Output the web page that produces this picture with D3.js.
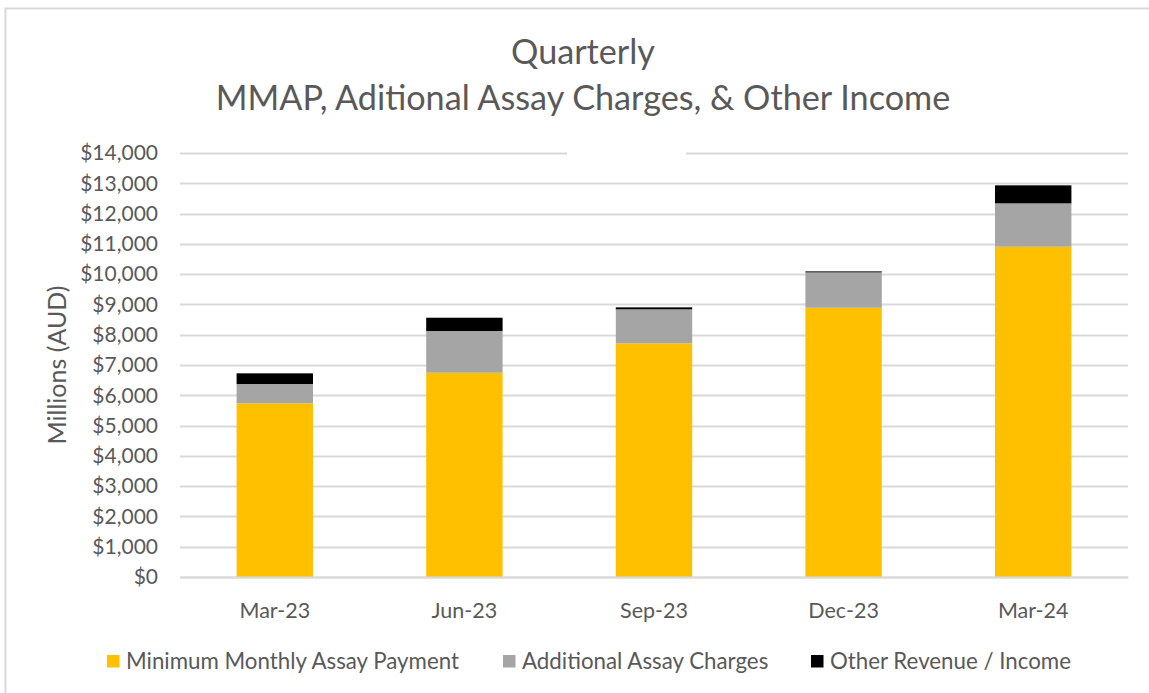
<!DOCTYPE html>
<html>
<head>
<meta charset="utf-8">
<script src="https://cdn.jsdelivr.net/npm/d3@7"></script>
<style>
  html, body { margin: 0; padding: 0; background: #ffffff; }
  svg { display: block; }
  text { font-family: "Lato", "Open Sans", sans-serif; fill: #595959; }
</style>
</head>
<body>
<svg id="chart" width="1149" height="693"></svg>
<script>
const categories = ["Mar-23", "Jun-23", "Sep-23", "Dec-23", "Mar-24"];
const minimumMonthly = [5735, 6745, 7715, 8890, 10905];
const additionalCharges = [637, 1377, 1123, 1168, 1432];
const otherIncome = [353, 439, 66, 33, 595];
const seriesNames = ["Minimum Monthly Assay Payment", "Additional Assay Charges", "Other Revenue / Income"];
const seriesColors = ["#FFC000", "#A5A5A5", "#000000"];
const yTicks = [0, 1000, 2000, 3000, 4000, 5000, 6000, 7000, 8000, 9000, 10000, 11000, 12000, 13000, 14000];
const titleLines = ["Quarterly", "MMAP, Aditional Assay Charges, & Other Income"];
const yAxisTitle = "Millions (AUD)";

const FONT = '"Lato", "Open Sans", sans-serif';
const svg = d3.select("#chart");
svg.append("rect").attr("x", 0).attr("y", 0).attr("width", 1149).attr("height", 693).attr("fill", "#fff");
svg.append("rect").attr("x", 5.5).attr("y", 8.5).attr("width", 1160).attr("height", 700)
  .attr("fill", "none").attr("stroke", "#d9d9d9").attr("stroke-width", 2);

const plot = { left: 180, right: 1128, top: 153, bottom: 577 };

const x = d3.scaleBand().domain(categories).range([plot.left, plot.right]).paddingInner(0.597).paddingOuter(0.2985);
const y = d3.scaleLinear().domain([0, 14000]).range([plot.bottom, plot.top]);

// gridlines
svg.append("g").selectAll("line").data(yTicks).join("line")
  .attr("x1", plot.left).attr("x2", plot.right)
  .attr("y1", d => Math.round(y(d)) + 0.5).attr("y2", d => Math.round(y(d)) + 0.5)
  .attr("stroke", "#d9d9d9").attr("stroke-width", 2);
// gap in the top gridline (title box overlap in original)
svg.append("rect").attr("x", 567).attr("y", y(14000) - 3).attr("width", 119).attr("height", 6).attr("fill", "#fff");

// stacked data
const table = categories.map((c, i) => ({ cat: c, s0: minimumMonthly[i], s1: additionalCharges[i], s2: otherIncome[i] }));
const stack = d3.stack().keys(["s0", "s1", "s2"])(table);

svg.append("g").selectAll("g").data(stack).join("g")
  .attr("fill", (d, i) => seriesColors[i])
  .selectAll("rect").data(d => d).join("rect")
  .attr("x", d => x(d.data.cat))
  .attr("width", x.bandwidth())
  .attr("y", d => y(d[1]))
  .attr("height", d => y(d[0]) - y(d[1]));

// y axis
const yAxis = d3.axisLeft(y).tickValues(yTicks).tickSize(0).tickPadding(22)
  .tickFormat(d => "$" + d3.format(",")(d));
const yg = svg.append("g").attr("transform", `translate(${plot.left},0)`).call(yAxis);
yg.attr("font-family", FONT).attr("font-size", 21);
yg.select(".domain").remove();
yg.selectAll("text").style("fill", "#595959");

// x axis
const xAxis = d3.axisBottom(x).tickSize(0).tickPadding(41);
const xg = svg.append("g").attr("transform", `translate(0,${plot.bottom})`).call(xAxis);
xg.attr("font-family", FONT).attr("font-size", 21.5);
xg.select(".domain").attr("stroke", "#d9d9d9").attr("stroke-width", 2);
xg.selectAll("text").attr("dy", 0).style("fill", "#595959");

// title
svg.append("text").attr("x", 583).attr("y", 64).attr("text-anchor", "middle").attr("font-size", 34.2).text(titleLines[0]);
svg.append("text").attr("x", 583).attr("y", 110).attr("text-anchor", "middle").attr("font-size", 34.2).text(titleLines[1]);

// y axis title
svg.append("text").attr("transform", "translate(66,365) rotate(-90)").attr("text-anchor", "middle")
  .attr("font-size", 25).text(yAxisTitle);

// legend
const legendX = [107, 503, 811];
const lg = svg.append("g").selectAll("g").data(seriesNames).join("g")
  .attr("transform", (d, i) => `translate(${legendX[i]},655)`);
lg.append("rect").attr("width", 12.5).attr("height", 12.5).attr("fill", (d, i) => seriesColors[i]);
lg.append("text").attr("x", 19).attr("y", 14.3).attr("font-size", 22.3).text(d => d);
</script>
</body>
</html>
